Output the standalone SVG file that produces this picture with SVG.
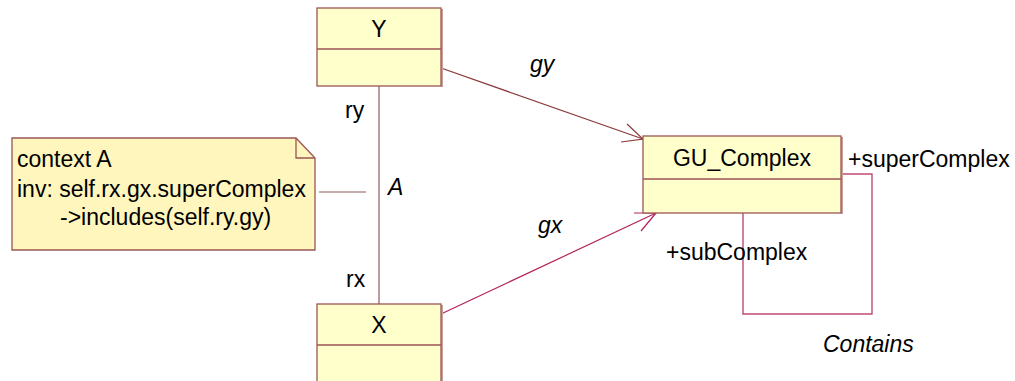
<svg xmlns="http://www.w3.org/2000/svg" width="1015" height="381" viewBox="0 0 1015 381">
  <style>
    .box { fill: #ffffcb; stroke: #9b5555; stroke-width: 1.3; }
    .shadow { stroke: #c8a0a0; stroke-width: 2; fill: none; }
    .note { fill: #fff6bd; stroke: #9b5555; stroke-width: 1.3; }
    .div { stroke: #9b5555; stroke-width: 1.3; }
    text { font-family: "Liberation Sans", Arial, sans-serif; font-size: 23px; fill: #000; }
    .it { font-style: italic; }
    .mid { text-anchor: middle; }
    .brown { stroke: #8c3a3a; stroke-width: 1.2; fill: none; }
    .crimson { stroke: #b3225a; stroke-width: 1.2; fill: none; }
    .loop { stroke: #c04a78; stroke-width: 1.4; fill: none; }
    .assoc { stroke: #8c5a5a; stroke-width: 1.2; fill: none; }
  </style>

  <!-- connectors -->
  <g id="connectors">
    <!-- association A between Y and X -->
    <line class="assoc" x1="379" y1="86" x2="379" y2="304"/>
    <!-- note anchor -->
    <line class="assoc" x1="319" y1="192" x2="366" y2="192"/>
    <!-- gy navigable association -->
    <line class="brown" x1="441" y1="68" x2="643" y2="139"/>
    <polyline class="brown" points="627,124 643,139 621,142"/>
    <!-- gx navigable association -->
    <line class="crimson" x1="441" y1="314" x2="656" y2="213"/>
    <polyline class="crimson" points="634,213 656,213 641,231"/>
    <!-- Contains self-association -->
    <polyline class="loop" points="841,174 872,174 872,314 743,314 743,213"/>
    <text x="345" y="118">ry</text>
    <text x="346" y="287">rx</text>
    <text class="it" x="388" y="195">A</text>
    <text class="it" x="530" y="72">gy</text>
    <text class="it" x="538" y="233">gx</text>
    <text x="848" y="167">+superComplex</text>
    <text x="666" y="260">+subComplex</text>
    <text class="it" x="823" y="352">Contains</text>
  </g>

  <!-- class Y -->
  <g id="Y">
    <line class="shadow" x1="442" y1="9" x2="442" y2="87"/>
    <rect class="box" x="317" y="8" width="124" height="78"/>
    <line class="div" x1="317" y1="49" x2="441" y2="49"/>
    <text class="mid" x="379" y="37">Y</text>
  </g>

  <!-- class X -->
  <g id="X">
    <line class="shadow" x1="442" y1="305" x2="442" y2="381"/>
    <rect class="box" x="317" y="304" width="124" height="90"/>
    <line class="div" x1="317" y1="345" x2="441" y2="345"/>
    <text class="mid" x="379" y="333">X</text>
  </g>

  <!-- class GU_Complex -->
  <g id="GU_Complex">
    <line class="shadow" x1="842" y1="137" x2="842" y2="214"/>
    <rect class="box" x="643" y="136" width="198" height="77"/>
    <line class="div" x1="643" y1="179" x2="841" y2="179"/>
    <text class="mid" x="742" y="166">GU_Complex</text>
  </g>

  <!-- OCL constraint note -->
  <g id="note">
    <path class="note" d="M12,138 H296 L315,158 V250 H12 Z"/>
    <polyline class="div" fill="none" points="296,138 296,158 315,158"/>
    <text x="17" y="167">context A</text>
    <text x="17" y="197">inv: self.rx.gx.superComplex</text>
    <text x="60" y="225">-&gt;includes(self.ry.gy)</text>
  </g>
</svg>
